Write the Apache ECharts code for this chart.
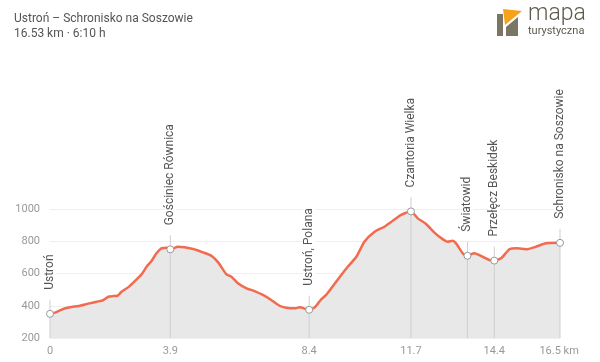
<!DOCTYPE html>
<html>
<head>
<meta charset="utf-8">
<script src="https://cdn.jsdelivr.net/npm/echarts@6/dist/echarts.min.js"></script>
<style>html,body{margin:0;padding:0;background:#fff}#c{width:600px;height:362px}</style>
</head>
<body>
<div id="c"></div>
<script>
var titleText = 'Ustroń – Schronisko na Soszowie';
var subtitleText = '16.53 km · 6:10 h';
var distanceKm = [0,0.16,0.43,0.70,0.92,1.24,1.51,1.72,1.89,2.05,2.19,2.32,2.53,2.75,2.97,3.13,3.29,3.45,3.61,3.78,3.9,4.15,4.64,4.96,5.23,5.45,5.72,5.88,6.09,6.37,6.63,6.90,7.17,7.44,7.66,7.93,8.09,8.4,8.58,8.79,8.95,9.17,9.44,9.65,9.93,10.19,10.52,10.84,11.11,11.38,11.7,11.92,12.19,12.46,12.62,12.89,13.05,13.16,13.38,13.5,13.75,14.02,14.24,14.4,14.62,14.89,15.14,15.42,15.75,16.07,16.53];
var elevationM = [350,357,380,392,398,413,425,434,456,460,462,487,514,553,595,642,677,725,756,760,750,766,752,731,710,669,595,580,539,508,491,467,436,400,388,384,390,375,390,440,467,522,591,642,704,797,859,890,927,963,985,942,907,853,828,797,803,787,725,710,725,704,684,680,694,750,756,750,766,787,790];
var waypointNames = ['Ustroń','Gościniec Równica','Ustroń, Polana','Czantoria Wielka','Światowid','Przełęcz Beskidek','Schronisko na Soszowie'];
var waypointKm = [0,3.9,8.4,11.7,13.53,14.4,16.53];
var waypointElev = [350,750,375,985,710,680,790];
var xTickValues = [0,3.9,8.4,11.7,14.4,16.5];
var xTickLabels = ['0','3.9','8.4','11.7','14.4','16.5 km'];

var profile = distanceKm.map(function(d,i){return [d, elevationM[i]];});
var waypoints = waypointKm.map(function(d,i){return [d, waypointElev[i], waypointNames[i]];});

var chart = echarts.init(document.getElementById('c'), null, {renderer:'canvas'});
chart.setOption({
  animation:false,
  grid:{left:50, right:40, top:209, bottom:24},
  graphic:[
    {type:'text', x:14, y:13, style:{text:titleText, font:'12px Roboto', fill:'#555'}},
    {type:'text', x:14, y:28, style:{text:subtitleText, font:'12px Roboto', fill:'#555'}},
    {type:'polygon', shape:{points:[[497,14],[503,14],[503,36],[497,36]]}, style:{fill:'#7b7664'}},
    {type:'polygon', shape:{points:[[506,27],[518,17],[518,36],[506,36]]}, style:{fill:'#7b7664'}},
    {type:'polygon', shape:{points:[[503,9],[522,11],[505,25]]}, style:{fill:'#f7a21b'}},
    {type:'text', x:528, y:3, style:{text:'mapa', font:'300 23px Roboto', fill:'#5f5a4e'}},
    {type:'text', x:528, y:26, style:{text:'turystyczna', font:'11px Roboto', fill:'#5f5a4e'}}
  ],
  xAxis:{
    type:'value', min:0, max:16.53,
    axisLine:{show:false}, axisTick:{show:false}, splitLine:{show:false},
    axisLabel:{
      customValues:xTickValues, color:'#999', fontSize:11, fontFamily:'Roboto', margin:8,
      showMinLabel:true, showMaxLabel:true,
      formatter:function(v){var i=xTickValues.indexOf(v);return i>=0?xTickLabels[i]:'';}
    }
  },
  yAxis:{
    type:'value', min:200, max:1000, interval:200,
    axisLine:{show:false}, axisTick:{show:false},
    axisLabel:{color:'#999', fontSize:11, fontFamily:'Roboto', margin:10, formatter:function(v){return String(v);}},
    splitLine:{lineStyle:{color:'#efefef', width:1}}
  },
  series:[
    {type:'line', data:profile, showSymbol:false, smooth:0.2,
     lineStyle:{color:'#f26b4f', width:2.5},
     areaStyle:{color:'#e8e8e8', opacity:1}, z:2},
    {type:'custom', data:waypoints, z:5, clip:false,
     renderItem:function(params, api){
       var p = api.coord([api.value(0), api.value(1)]);
       var b = api.coord([api.value(0), 200]);
       var name = waypointNames[params.dataIndex];
       return {type:'group', children:[
         {type:'line', shape:{x1:p[0], y1:p[1]-14, x2:p[0], y2:b[1]}, style:{stroke:'#cfcfcf', lineWidth:1}, z2:1},
         {type:'circle', shape:{cx:p[0], cy:p[1], r:3.5}, style:{fill:'#fff', stroke:'#999', lineWidth:1}, z2:3},
         {type:'text', x:p[0], y:p[1]-21, rotation:Math.PI/2,
          style:{text:name, x:0, y:0, align:'left', verticalAlign:'middle', font:'12px Roboto', fill:'#555',
                 backgroundColor:'#fff', padding:[0,3,0,3]}, z2:2}
       ]};
     }}
  ]
});
</script>
</body>
</html>
